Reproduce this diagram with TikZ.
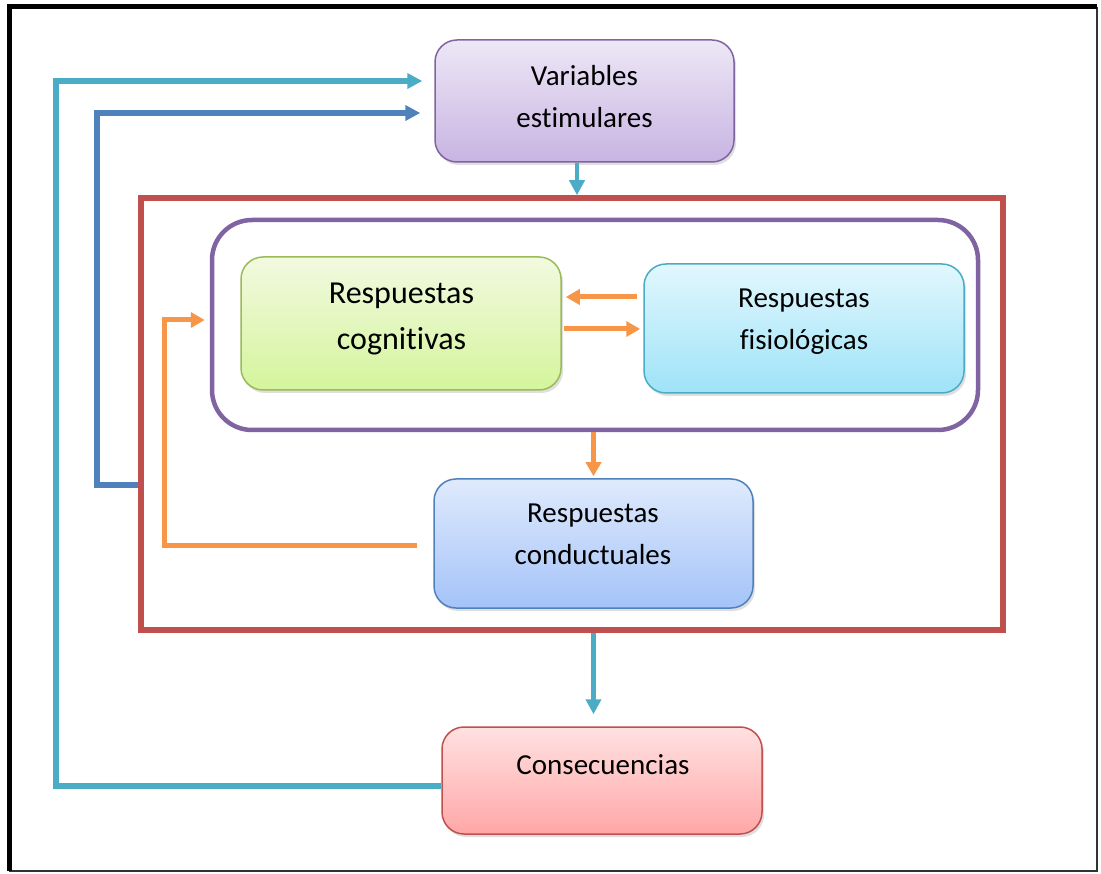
\documentclass[tikz,border=0pt]{standalone}
\usepackage{fontspec}
\setmainfont{Carlito}[Ligatures={NoCommon}]
\usetikzlibrary{arrows.meta,shadows,calc}
\definecolor{cteal}{HTML}{4BACC6}
\definecolor{cblue}{HTML}{4F81BD}
\definecolor{corange}{HTML}{F79646}
\definecolor{cred}{HTML}{C0504D}
\definecolor{cpurple}{HTML}{8064A2}
\definecolor{cgreen}{HTML}{9BBB59}
\definecolor{vtop}{HTML}{EDE7F6}\definecolor{vbot}{HTML}{C8B4E2}
\definecolor{gtop}{HTML}{F2F9E0}\definecolor{gbot}{HTML}{D4F59C}
\definecolor{ftop}{HTML}{E2F7FD}\definecolor{fbot}{HTML}{9EE3F8}
\definecolor{btop}{HTML}{DFEAFD}\definecolor{bbot}{HTML}{A4C3F8}
\definecolor{rtop}{HTML}{FFE1E1}\definecolor{rbot}{HTML}{FFA7A7}
\tikzset{
  box/.style={rectangle, rounded corners=22pt, inner sep=0pt, line width=1.5pt,
    drop shadow={shadow xshift=2pt, shadow yshift=-3pt, opacity=0.25}},
  txt/.style={align=center, inner sep=0pt, font=\fontsize{29}{42}\selectfont},
  bigtip/.style={-{Triangle[length=15pt,width=15pt]}},
  smalltip/.style={-{Triangle[length=14pt,width=15pt]}},
  tealline/.style={draw=cteal, line width=5.5pt},
  blueline/.style={draw=cblue, line width=5.5pt},
  orangeline/.style={draw=corange, line width=5pt},
}
\begin{document}
\begin{tikzpicture}[x=1pt,y=-1pt]
\useasboundingbox (0,0) rectangle (1101,874);
\fill[white] (0,0) rectangle (1101,874);
% outer frame
\draw[black!80, line width=2.5pt] (1097,7) -- (1097,871) -- (9,871);
\draw[black, line width=5pt] (9,871) -- (9,7) -- (1097,7);

% containers
\node[draw=cred, line width=5.5pt, rectangle, inner sep=0pt, minimum width=862pt, minimum height=432pt] (red) at (572,414) {};
\node[draw=cpurple, line width=4.5pt, rectangle, rounded corners=40pt, inner sep=0pt, minimum width=766pt, minimum height=210pt] (pur) at (595,325) {};

% boxes
\node[box, draw=cpurple, top color=vtop, bottom color=vbot, minimum width=299pt, minimum height=122pt] (var) at (584.5,101) {};
\node[box, draw=cgreen, top color=gtop, bottom color=gbot, minimum width=320pt, minimum height=133pt] (cog) at (401,323.5) {};
\node[box, draw=cteal, top color=ftop, bottom color=fbot, minimum width=320pt, minimum height=129pt] (fis) at (804,328.5) {};
\node[box, draw=cblue, top color=btop, bottom color=bbot, minimum width=319pt, minimum height=129pt] (con) at (593.5,543.5) {};
\node[box, draw=cred, top color=rtop, bottom color=rbot, minimum width=320pt, minimum height=107pt] (cons) at (602,780.5) {};

% texts
\node[txt] (vart) at (584.5,97) {Variables\\estimulares};
\node[txt, font=\fontsize{32}{46}\selectfont] (cogt) at (401.5,319) {Respuestas\\cognitivas};
\node[txt] (fist) at (804,322) {Respuestas\\fisiológicas};
\node[txt] (cont) at (593,534.5) {Respuestas\\conductuales};
\node[txt] (const) at (603,765) {Consecuencias};

% helper coordinates
\coordinate (t1) at (56,786);
\coordinate (t2) at (56,81);
\coordinate (b1) at (97,485);
\coordinate (b2) at (97,113);
\coordinate (f1) at (164,545);
\coordinate (f2) at (164,320);
\coordinate (ax) at (577,0);
\coordinate (cy1) at (0,297);
\coordinate (cy2) at (0,329);

% connectors
\draw[tealline, bigtip, shorten >=12pt] (cons.west |- t1) -- (t1) -- (t2) -- (var.west |- t2);
\draw[blueline, bigtip, shorten >=14pt] (red.west |- b1) -- (b1) -- (b2) -- (var.west |- b2);
\draw[tealline, line width=4.5pt, bigtip] (var.south -| ax) -- (red.north -| ax);
\draw[tealline, line width=4.5pt, bigtip, shorten >=12pt] (con |- red.south) -- (con |- cons.north);
\draw[orangeline, smalltip, shorten <=6pt, shorten >=4pt] (fis.west |- cy1) -- (cog.east |- cy1);
\draw[orangeline, smalltip, shorten <=2pt, shorten >=3pt] (cog.east |- cy2) -- (fis.west |- cy2);
\draw[orangeline, smalltip, shorten >=2pt] (con |- pur.south) -- (con.north);
\draw[orangeline, smalltip, shorten <=16pt, shorten >=5pt] (con.west |- f1) -- (f1) -- (f2) -- (pur.west |- f2);
\end{tikzpicture}
\end{document}
